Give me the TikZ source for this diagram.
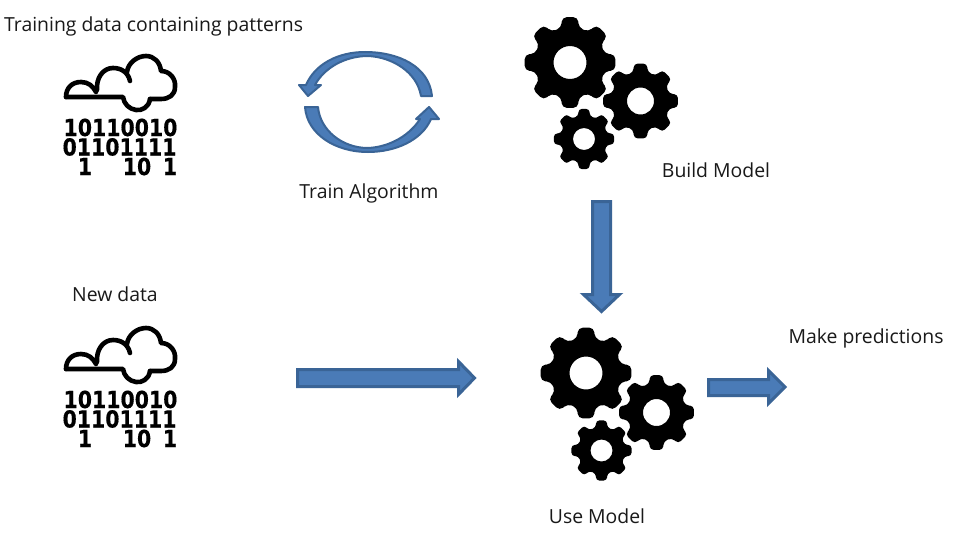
\documentclass[tikz,border=0pt]{standalone}
\usepackage{fontspec}
\usepackage{graphicx}
\setmainfont{Open Sans}
\newfontfamily\digitfont{DejaVu Sans Bold}[FakeBold=0.5]
\usetikzlibrary{calc}
\definecolor{arrowfill}{HTML}{4A7BB7}
\definecolor{arrowline}{HTML}{3A6496}
\tikzset{
  caption/.style={font=\fontsize{19.4}{23}\selectfont,inner sep=0pt,text=black!90},
  bits/.style={font=\digitfont\fontsize{23.5}{25}\selectfont,inner sep=0pt,anchor=base},
  blockarrow/.style={fill=arrowfill,draw=arrowline,line width=3pt,line join=miter},
  bandarrow/.style={fill=arrowfill,draw=arrowline,line width=2pt,line join=round},
  cloudline/.style={draw=black,line width=4.6pt,line join=round,line cap=round},
}
\newcommand{\gearshape}[4]{% cx cy R hole
  \fill[even odd rule,rounded corners=#3*0.1pt] 
    \foreach \k in {0,...,7} {
      \ifnum\k=0 ($(#1,#2)+({90+\k*45-10}:#3)$) \else -- ($(#1,#2)+({90+\k*45-10}:#3)$) \fi
      -- ($(#1,#2)+({90+\k*45+10}:#3)$)
      -- ($(#1,#2)+({90+\k*45+14}:#3*0.78)$)
      -- ($(#1,#2)+({90+\k*45+31}:#3*0.78)$)
    } -- cycle
    (#1,#2) circle[radius=#4];
}
\newcommand{\squeeze}[1]{\scalebox{0.87}[1]{#1}}
\newcommand{\rain}[1]{%
  \begin{scope}[yshift=#1]
  \draw[cloudline] (66,97) .. controls (66,88) and (72,82) .. (81,82)
    .. controls (88,82) and (93,86) .. (96,92);
  \draw[cloudline] (97,90) .. controls (96,78) and (103,68) .. (113,68)
    .. controls (121,68) and (128,72) .. (130,81);
  \draw[cloudline] (127,72) .. controls (128,63) and (137,56) .. (146,56)
    .. controls (154,56) and (160,62) .. (161,71)
    .. controls (170,71) and (176,79) .. (175,87)
    .. controls (175,95) and (169,99) .. (161,99) -- (150,99);
  \draw[cloudline] (150,99) .. controls (149,107) and (142,111) .. (136,110)
    .. controls (129,109) and (124,104) .. (123,97) -- (66,97);
  \node[bits] at (120.5,136) {\squeeze{10110010}};
  \node[bits] at (119.5,155.5) {\squeeze{01101111}};
  \node[bits] at (85,175) {\squeeze{1}};
  \node[bits] at (137,175) {\squeeze{10}};
  \node[bits] at (170,175) {\squeeze{1}};
  \end{scope}
}
\begin{document}
\begin{tikzpicture}[x=1pt,y=-1pt]
\useasboundingbox (0,0) rectangle (957,535);
\fill[white] (0,0) rectangle (957,535);

\node[caption,anchor=west] (t1) at (4,26) {Training data containing patterns};
\node[caption] (t2) at (369,193) {Train Algorithm};
\node[caption] (t3) at (716,170) {Build Model};
\node[caption] (t4) at (115,294) {New data};
\node[caption] (t5) at (866,338) {Make predictions};
\node[caption] (t6) at (597,516) {Use Model};

\rain{0pt}
\rain{-272pt}

% circular arrows
\fill[bandarrow]
  (432,96) .. controls (429,66) and (398,52) .. (365,52)
  .. controls (338,52) and (315,64) .. (306,85)
  -- (299,85) -- (308,96) -- (321,85) -- (315,85)
  .. controls (324,68) and (345,56) .. (368,56)
  .. controls (392,57) and (417,72) .. (421,96) -- cycle;
\fill[bandarrow]
  (305,107) .. controls (307,134) and (335,152) .. (368,152)
  .. controls (396,152) and (422,140) .. (431,119)
  -- (439,119) -- (429,107) -- (416,119) -- (420,119)
  .. controls (410,135) and (390,147) .. (368,148)
  .. controls (342,148) and (320,130) .. (318,107) -- cycle;

\gearshape{570}{62.5}{46}{16.5}
\gearshape{640.5}{101}{38}{13.5}
\gearshape{584}{139}{30.5}{11}
\gearshape{586}{373}{46}{16.5}
\gearshape{656.5}{412.5}{38}{13.5}
\gearshape{601.5}{450.5}{30.5}{11}

% block arrows
\fill[blockarrow] (592.5,201.5) -- (610.5,201.5) -- (610.5,294.5) -- (619.5,294.5) -- (601.5,311.5) -- (583.5,294.5) -- (592.5,294.5) -- cycle;
\fill[blockarrow] (297.5,369.5) -- (458.5,369.5) -- (458.5,361.5) -- (474.5,378) -- (458.5,394.5) -- (458.5,386.5) -- (297.5,386.5) -- cycle;
\fill[blockarrow] (708.5,379.5) -- (768.5,379.5) -- (768.5,370.5) -- (785,387) -- (768.5,403.5) -- (768.5,395.5) -- (708.5,395.5) -- cycle;
\end{tikzpicture}
\end{document}
